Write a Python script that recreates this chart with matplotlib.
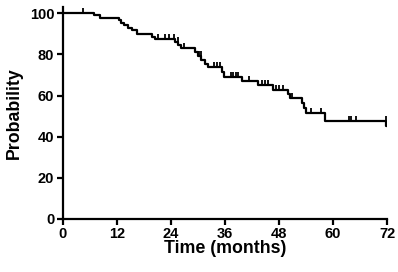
'''Kaplan-Meier style survival curve'''
import matplotlib
matplotlib.use("Agg")
import matplotlib.pyplot as plt
from matplotlib.path import Path

# event times (months) and survival (%) after each event
event_times = [0, 6.9, 8.3, 12.6, 13.0, 13.6, 14.4, 15.4, 16.6, 19.9, 20.5,
               25.0, 25.7, 26.3, 29.3, 30.0, 30.8, 31.6, 32.3, 35.4, 35.8,
               39.8, 43.3, 46.6, 50.1, 50.5, 53.1, 53.5, 53.9, 58.3, 71.8]
survival = [100, 99.0, 97.9, 96.6, 95.4, 94.2, 93.0, 91.8, 89.7, 88.3, 87.5,
            86.0, 84.6, 83.0, 81.0, 79.0, 77.3, 75.5, 73.8, 71.3, 69.2,
            67.2, 65.1, 62.8, 60.7, 58.7, 56.3, 53.7, 51.3, 47.4, 45.0]
end_time = 72

# censored observations (months)
censored = [4.4, 21.2, 22.8, 23.5, 24.6, 25.6, 26.9, 30.3, 30.8, 33.5, 34.2,
            35.0, 37.3, 37.9, 38.5, 39.0, 41.3, 44.2, 44.8, 45.5, 47.3, 48.1,
            48.8, 50.8, 55.1, 57.3, 63.6, 63.9, 65.1, 71.8]

xticks = [0, 12, 24, 36, 48, 60, 72]
yticks = [0, 20, 40, 60, 80, 100]


def surv_at(t):
    s = survival[0]
    for et, sv in zip(event_times, survival):
        if et < t:
            s = sv
    return s


def main():
    plt.rcParams['font.family'] = ['Liberation Sans', 'DejaVu Sans']
    fig = plt.figure(figsize=(3.98, 2.72), dpi=100)
    ax = fig.add_axes([0.1575, 0.195, 0.815, 0.779])

    xs = event_times + [end_time]
    ys = survival + [survival[-1]]
    ax.step(xs, ys, where='post', color='black', lw=1.6)

    tick = Path([(0, 0), (0, 1)])
    cy = [surv_at(t) for t in censored]
    ax.plot(censored, cy, linestyle='none', marker=tick, markersize=7,
            markeredgewidth=1.3, color='black')

    ax.set_xlim(0, 72)
    ax.set_ylim(0, 103)
    ax.set_xticks(xticks)
    ax.set_yticks(yticks)
    for s in ['top', 'right']:
        ax.spines[s].set_visible(False)
    for s in ['left', 'bottom']:
        ax.spines[s].set_linewidth(1.6)
    ax.tick_params(direction='out', length=4, width=1.6, labelsize=10.5, pad=2)
    for lab in ax.get_xticklabels() + ax.get_yticklabels():
        lab.set_fontweight('bold')
    ax.set_xlabel('Time (months)', fontsize=12.8, fontweight='bold', labelpad=-1)
    ax.set_ylabel('Probability', fontsize=12.8, fontweight='bold', labelpad=5)

    fig.savefig('out.png', dpi=100)


if __name__ == "__main__":
    main()
